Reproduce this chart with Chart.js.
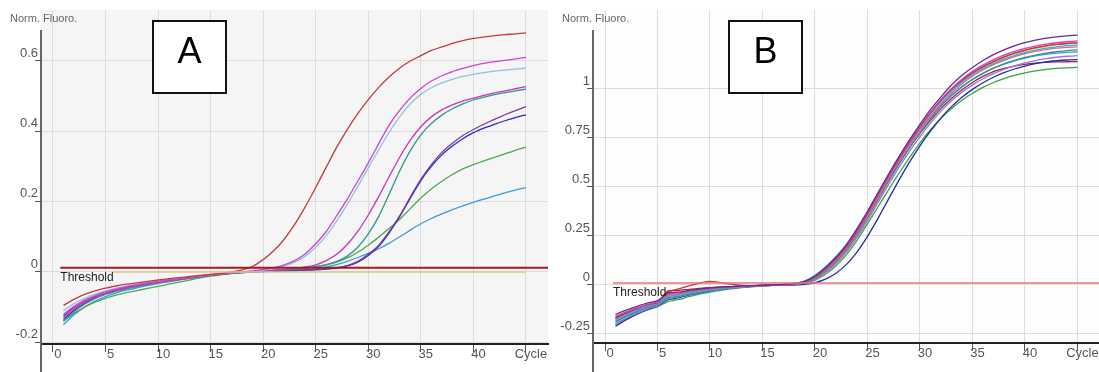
<!DOCTYPE html>
<html>
<head>
<meta charset="utf-8">
<script src="https://cdn.jsdelivr.net/npm/chart.js@4.4.0/dist/chart.umd.min.js"></script>
<style>
  html, body { margin: 0; padding: 0; background: #fff; }
  #wrapA { position: absolute; left: 0; top: 0; width: 549px; height: 372px; }
  #wrapB { position: absolute; left: 549px; top: 0; width: 550px; height: 372px; }
</style>
</head>
<body>
<div id="wrapA"><canvas id="chartA" width="549" height="372"></canvas></div>
<div id="wrapB"><canvas id="chartB" width="550" height="372"></canvas></div>
<script>
// cycle numbers shared by every curve
const cycles = [1,2,3,4,5,6,7,8,9,10,11,12,13,14,15,16,17,18,19,20,21,22,23,24,25,26,27,28,29,30,31,32,33,34,35,36,37,38,39,40,41,42,43,44,45];

// x axis ticks (both panels)
const xTickVals = [0, 5, 10, 15, 20, 25, 30, 35, 40, 45];
const xTickLabels = ['0', '5', '10', '15', '20', '25', '30', '35', '40', 'Cycle'];

// panel A y ticks
const yTickValsA = [-0.2, 0, 0.2, 0.4, 0.6];
const yTickLabelsA = ['-0.2', '0', '0.2', '0.4', '0.6'];
// panel B y ticks
const yTickValsB = [-0.25, 0, 0.25, 0.5, 0.75, 1];
const yTickLabelsB = ['-0.25', '0', '0.25', '0.5', '0.75', '1'];

// threshold levels
const thresholdA = 0.012;
const baselineA = 0;
const thresholdB = 0.01;

// ---- panel A curves (normalised fluorescence per cycle) ----
const aRed = [-0.095,-0.078,-0.064,-0.054,-0.046,-0.040,-0.035,-0.031,-0.027,-0.023,-0.019,-0.016,-0.013,-0.010,-0.007,-0.004,0.000,0.006,0.016,0.035,0.060,0.093,0.135,0.185,0.240,0.298,0.355,0.405,0.450,0.490,0.525,0.555,0.580,0.600,0.615,0.630,0.640,0.650,0.658,0.664,0.668,0.672,0.675,0.677,0.680];
const aMagenta1 = [-0.120,-0.098,-0.080,-0.067,-0.057,-0.049,-0.042,-0.036,-0.031,-0.027,-0.023,-0.019,-0.015,-0.011,-0.008,-0.005,-0.002,0.000,0.003,0.007,0.012,0.020,0.032,0.052,0.080,0.115,0.160,0.207,0.258,0.310,0.365,0.418,0.460,0.495,0.522,0.543,0.558,0.570,0.579,0.587,0.593,0.598,0.602,0.606,0.610];
const aPaleBlue = [-0.110,-0.090,-0.075,-0.063,-0.054,-0.046,-0.040,-0.035,-0.030,-0.026,-0.022,-0.018,-0.014,-0.011,-0.008,-0.005,-0.002,0.000,0.002,0.005,0.010,0.017,0.028,0.045,0.070,0.103,0.145,0.192,0.243,0.296,0.348,0.398,0.442,0.478,0.505,0.524,0.538,0.548,0.556,0.562,0.567,0.571,0.574,0.577,0.580];
const aMagenta2 = [-0.130,-0.106,-0.087,-0.072,-0.061,-0.052,-0.045,-0.039,-0.034,-0.029,-0.025,-0.021,-0.017,-0.013,-0.009,-0.006,-0.003,-0.001,0.001,0.003,0.005,0.007,0.010,0.014,0.020,0.032,0.050,0.078,0.115,0.162,0.215,0.272,0.327,0.375,0.413,0.441,0.461,0.475,0.486,0.494,0.502,0.509,0.515,0.521,0.527];
const aTeal = [-0.140,-0.113,-0.092,-0.076,-0.064,-0.055,-0.048,-0.042,-0.036,-0.031,-0.026,-0.022,-0.018,-0.014,-0.010,-0.007,-0.004,-0.002,0.000,0.002,0.004,0.006,0.008,0.011,0.015,0.021,0.030,0.045,0.070,0.108,0.158,0.222,0.288,0.345,0.390,0.422,0.446,0.464,0.478,0.489,0.497,0.504,0.510,0.515,0.520];
const aPurple = [-0.125,-0.102,-0.084,-0.070,-0.060,-0.051,-0.044,-0.038,-0.033,-0.028,-0.024,-0.020,-0.016,-0.012,-0.009,-0.006,-0.003,-0.001,0.001,0.002,0.003,0.004,0.005,0.006,0.007,0.009,0.012,0.018,0.030,0.050,0.076,0.115,0.160,0.213,0.263,0.305,0.340,0.366,0.388,0.405,0.420,0.434,0.447,0.459,0.470];
const aBlue = [-0.135,-0.110,-0.090,-0.074,-0.062,-0.053,-0.046,-0.040,-0.035,-0.030,-0.025,-0.021,-0.017,-0.013,-0.009,-0.006,-0.003,-0.001,0.000,0.001,0.002,0.003,0.004,0.005,0.006,0.008,0.011,0.017,0.028,0.047,0.073,0.112,0.158,0.210,0.260,0.300,0.333,0.358,0.379,0.396,0.409,0.420,0.430,0.439,0.447];
const aGreen = [-0.140,-0.118,-0.100,-0.086,-0.075,-0.066,-0.059,-0.053,-0.047,-0.041,-0.035,-0.029,-0.023,-0.017,-0.012,-0.008,-0.005,-0.002,0.000,0.002,0.004,0.006,0.008,0.011,0.015,0.020,0.028,0.040,0.056,0.076,0.099,0.124,0.150,0.180,0.210,0.236,0.258,0.277,0.293,0.305,0.316,0.326,0.336,0.346,0.355];
const aLightBlue = [-0.150,-0.122,-0.100,-0.083,-0.070,-0.060,-0.052,-0.045,-0.039,-0.033,-0.028,-0.023,-0.018,-0.014,-0.010,-0.007,-0.004,-0.002,0.000,0.001,0.002,0.003,0.004,0.006,0.009,0.014,0.021,0.030,0.041,0.053,0.066,0.082,0.100,0.119,0.137,0.152,0.165,0.177,0.188,0.198,0.207,0.216,0.225,0.233,0.240];

// ---- panel B curves ----
const bPurple = [-0.150,-0.128,-0.110,-0.093,-0.080,-0.040,-0.036,-0.028,-0.021,-0.015,-0.011,-0.008,-0.005,-0.003,-0.001,0.001,0.003,0.008,0.018,0.045,0.088,0.140,0.205,0.285,0.375,0.470,0.565,0.655,0.740,0.820,0.895,0.960,1.020,1.070,1.110,1.145,1.175,1.200,1.220,1.236,1.249,1.259,1.266,1.271,1.275];
const bMagenta = [-0.160,-0.137,-0.118,-0.100,-0.086,-0.045,-0.040,-0.031,-0.024,-0.018,-0.013,-0.010,-0.007,-0.004,-0.002,0.000,0.002,0.007,0.017,0.043,0.085,0.137,0.200,0.280,0.370,0.465,0.560,0.650,0.733,0.810,0.882,0.947,1.003,1.050,1.090,1.122,1.150,1.173,1.192,1.207,1.219,1.229,1.236,1.241,1.245];
const bRed = [-0.165,-0.140,-0.120,-0.102,-0.088,-0.035,-0.020,-0.005,0.010,0.018,0.012,0.004,-0.002,-0.004,-0.002,0.000,0.003,0.007,0.016,0.041,0.082,0.133,0.195,0.275,0.365,0.460,0.555,0.645,0.728,0.805,0.878,0.942,0.998,1.043,1.082,1.114,1.141,1.164,1.183,1.198,1.211,1.221,1.228,1.232,1.235];
const bCyan = [-0.175,-0.150,-0.128,-0.108,-0.092,-0.060,-0.052,-0.042,-0.033,-0.025,-0.019,-0.014,-0.010,-0.006,-0.003,-0.001,0.002,0.008,0.020,0.050,0.092,0.145,0.208,0.288,0.375,0.468,0.560,0.648,0.730,0.805,0.875,0.937,0.990,1.035,1.073,1.104,1.130,1.152,1.170,1.185,1.198,1.208,1.215,1.221,1.225];
const bPink = [-0.180,-0.153,-0.130,-0.110,-0.094,-0.055,-0.048,-0.038,-0.030,-0.023,-0.017,-0.013,-0.009,-0.006,-0.003,-0.001,0.001,0.005,0.013,0.036,0.075,0.125,0.186,0.264,0.352,0.446,0.540,0.630,0.713,0.790,0.862,0.926,0.980,1.026,1.065,1.097,1.124,1.146,1.165,1.180,1.192,1.201,1.208,1.212,1.215];
const bTeal = [-0.190,-0.162,-0.138,-0.117,-0.100,-0.065,-0.057,-0.046,-0.036,-0.027,-0.020,-0.015,-0.011,-0.007,-0.004,-0.002,0.001,0.004,0.012,0.033,0.070,0.118,0.178,0.255,0.342,0.435,0.528,0.617,0.700,0.776,0.848,0.911,0.965,1.010,1.048,1.080,1.106,1.128,1.146,1.161,1.173,1.183,1.190,1.196,1.200];
const bLavender = [-0.200,-0.170,-0.145,-0.123,-0.105,-0.070,-0.061,-0.049,-0.038,-0.029,-0.022,-0.016,-0.011,-0.007,-0.004,-0.002,0.000,0.003,0.010,0.030,0.064,0.110,0.168,0.243,0.328,0.420,0.512,0.600,0.682,0.757,0.826,0.887,0.940,0.984,1.021,1.052,1.078,1.100,1.118,1.133,1.145,1.155,1.162,1.167,1.170];
const bDarkBlue = [-0.210,-0.178,-0.150,-0.127,-0.108,-0.075,-0.065,-0.052,-0.040,-0.030,-0.022,-0.016,-0.011,-0.007,-0.004,-0.002,-0.001,0.000,0.003,0.012,0.030,0.060,0.105,0.168,0.248,0.340,0.438,0.535,0.627,0.710,0.785,0.852,0.910,0.958,0.998,1.032,1.060,1.083,1.102,1.117,1.129,1.138,1.144,1.148,1.150];
const bGreen = [-0.200,-0.172,-0.148,-0.127,-0.110,-0.085,-0.074,-0.060,-0.047,-0.036,-0.027,-0.020,-0.014,-0.009,-0.005,-0.002,0.000,0.002,0.008,0.025,0.055,0.098,0.155,0.228,0.312,0.398,0.485,0.570,0.650,0.725,0.792,0.850,0.900,0.943,0.978,1.008,1.033,1.053,1.069,1.082,1.092,1.100,1.105,1.108,1.110];
const bDarkRed = [-0.170,-0.145,-0.124,-0.105,-0.090,-0.030,-0.028,-0.022,-0.017,-0.013,-0.010,-0.008,-0.006,-0.004,-0.002,0.000,0.002,0.005,0.012,0.034,0.072,0.121,0.182,0.260,0.348,0.440,0.532,0.620,0.700,0.773,0.840,0.900,0.952,0.996,1.033,1.064,1.089,1.105,1.117,1.126,1.132,1.136,1.138,1.139,1.140];
const bSkyBlue = [-0.185,-0.158,-0.135,-0.114,-0.097,-0.058,-0.050,-0.040,-0.031,-0.024,-0.018,-0.013,-0.009,-0.006,-0.003,-0.001,0.001,0.006,0.018,0.046,0.090,0.142,0.205,0.285,0.372,0.462,0.552,0.638,0.718,0.790,0.858,0.918,0.970,1.013,1.050,1.080,1.106,1.127,1.144,1.158,1.169,1.177,1.183,1.187,1.190];
const bOlive = [-0.170,-0.145,-0.125,-0.105,-0.090,-0.050,-0.045,-0.035,-0.027,-0.020,-0.015,-0.011,-0.008,-0.005,-0.002,0.000,0.002,0.006,0.015,0.040,0.080,0.130,0.190,0.270,0.360,0.455,0.550,0.640,0.725,0.800,0.875,0.940,0.995,1.040,1.080,1.110,1.137,1.160,1.180,1.195,1.208,1.218,1.226,1.232,1.237];

const FONT = "'Liberation Sans', Arial, sans-serif";
Chart.defaults.font.family = FONT;
Chart.defaults.font.size = 13;
Chart.defaults.color = '#555';

function curve(vals, color) {
  return {
    data: vals.map((v, i) => ({ x: cycles[i], y: v })),
    borderColor: color,
    borderWidth: 1.3,
    pointRadius: 0,
    tension: 0.2,
    fill: false
  };
}

function hLine(level, from, to, color, width) {
  return {
    data: [{ x: from, y: level }, { x: to, y: level }],
    borderColor: color,
    borderWidth: width,
    pointRadius: 0,
    fill: false
  };
}

// background, y axis rule, headings, letter box, threshold label
const decor = {
  id: 'decor',
  beforeDraw(chart, args, o) {
    const { ctx, chartArea: a } = chart;
    ctx.save();
    ctx.fillStyle = o.bg;
    ctx.fillRect(a.left, a.top, a.right - a.left, a.bottom - a.top);
    ctx.restore();
  },
  afterDraw(chart, args, o) {
    const { ctx, chartArea: a } = chart;
    const xs = chart.scales.x, ys = chart.scales.y;
    ctx.save();
    ctx.strokeStyle = '#666';
    ctx.lineWidth = 2;
    ctx.beginPath();
    ctx.moveTo(a.left, 30);
    ctx.lineTo(a.left, chart.height);
    ctx.stroke();

    ctx.font = '11px ' + FONT;
    ctx.fillStyle = '#666';
    ctx.textAlign = 'left';
    ctx.textBaseline = 'middle';
    ctx.fillText('Norm. Fluoro.', o.titleX, 19);

    const [bx, by, bw, bh] = o.box;
    ctx.fillStyle = '#fff';
    ctx.fillRect(bx, by, bw, bh);
    ctx.strokeStyle = '#111';
    ctx.lineWidth = 2;
    ctx.strokeRect(bx, by, bw, bh);
    ctx.fillStyle = '#000';
    ctx.textAlign = 'center';
    ctx.font = '36px "Liberation Sans", Arial, sans-serif';
    ctx.fillText(o.letter, bx + bw / 2, 53);

    ctx.font = '12px ' + FONT;
    ctx.fillStyle = '#222';
    ctx.textAlign = 'left';
    ctx.fillText('Threshold', xs.getPixelForValue(o.thrFrom), ys.getPixelForValue(o.thrLevel) + 10);
    ctx.restore();
  }
};

function makeChart(id, cfg) {
  return new Chart(document.getElementById(id), {
    type: 'line',
    data: { datasets: cfg.datasets },
    options: {
      responsive: false,
      animation: false,
      devicePixelRatio: 1,
      layout: { padding: { top: 10, right: cfg.padRight, left: 0, bottom: 0 } },
      plugins: {
        legend: { display: false },
        tooltip: { enabled: false },
        decor: cfg.decor
      },
      scales: {
        x: {
          type: 'linear',
          min: cfg.xMin,
          max: cfg.xMax,
          afterBuildTicks: s => { s.ticks = xTickVals.map(v => ({ value: v })); },
          afterFit: s => { s.height = cfg.xHeight; s.paddingLeft = 0; s.paddingRight = 0; },
          ticks: {
            autoSkip: false, maxRotation: 0, padding: -5, labelOffset: 5,
            color: '#555',
            callback: (v, i) => xTickLabels[i]
          },
          grid: { color: '#dcdcdc', tickColor: '#555', tickLength: 8, lineWidth: 1 },
          border: { display: true, color: '#222', width: 2 }
        },
        y: {
          type: 'linear',
          min: cfg.yMin,
          max: cfg.yMax,
          afterBuildTicks: s => { s.ticks = cfg.yVals.map(v => ({ value: v })); },
          afterFit: s => { s.width = cfg.yWidth; s.paddingTop = 0; s.paddingBottom = 0; },
          ticks: {
            padding: -3, labelOffset: -8, color: '#555',
            callback: (v, i) => cfg.yLabels[i]
          },
          grid: { color: '#dcdcdc', tickColor: '#555', tickLength: 6, lineWidth: 1 },
          border: { display: false }
        }
      }
    },
    plugins: [decor]
  });
}

makeChart('chartA', {
  xMin: -1.14, xMax: 47.1, yMin: -0.205, yMax: 0.745,
  xHeight: 28, yWidth: 41, padRight: 1,
  yVals: yTickValsA, yLabels: yTickLabelsA,
  decor: { bg: '#f5f5f5', titleX: 10, box: [153, 21, 73, 72], letter: 'A', thrFrom: 0.7, thrLevel: thresholdA },
  datasets: [
    hLine(thresholdA, 0.7, 47.1, '#a01c1c', 2),
    hLine(baselineA, 5.7, 45, '#d9c48f', 1.5),
    curve(aRed, '#c23b3b'),
    curve(aMagenta1, '#cc44d4'),
    curve(aPaleBlue, '#8ec3dc'),
    curve(aMagenta2, '#cc33b8'),
    curve(aTeal, '#2a9a8c'),
    curve(aPurple, '#7d3c98'),
    curve(aBlue, '#2a2ac8'),
    curve(aGreen, '#4fa84f'),
    curve(aLightBlue, '#3d9ad6')
  ]
});

makeChart('chartB', {
  xMin: -1.143, xMax: 47.05, yMin: -0.296, yMax: 1.403,
  xHeight: 29, yWidth: 44, padRight: 0,
  yVals: yTickValsB, yLabels: yTickLabelsB,
  decor: { bg: '#fdfdfd', titleX: 13, box: [180, 21, 73, 72], letter: 'B', thrFrom: 0.76, thrLevel: thresholdB },
  datasets: [
    hLine(thresholdB, 0.76, 47.05, '#e87474', 1.5),
    curve(bPurple, '#6a2c8c'),
    curve(bMagenta, '#d23cc8'),
    curve(bRed, '#d03030'),
    curve(bCyan, '#2cb4cc'),
    curve(bPink, '#e0609a'),
    curve(bTeal, '#2a9a88'),
    curve(bLavender, '#a070e0'),
    curve(bDarkBlue, '#1f2fa8'),
    curve(bGreen, '#3fa23f'),
    curve(bDarkRed, '#a0283c'),
    curve(bSkyBlue, '#4e8fd8'),
    curve(bOlive, '#b8a030')
  ]
});
</script>
</body>
</html>
